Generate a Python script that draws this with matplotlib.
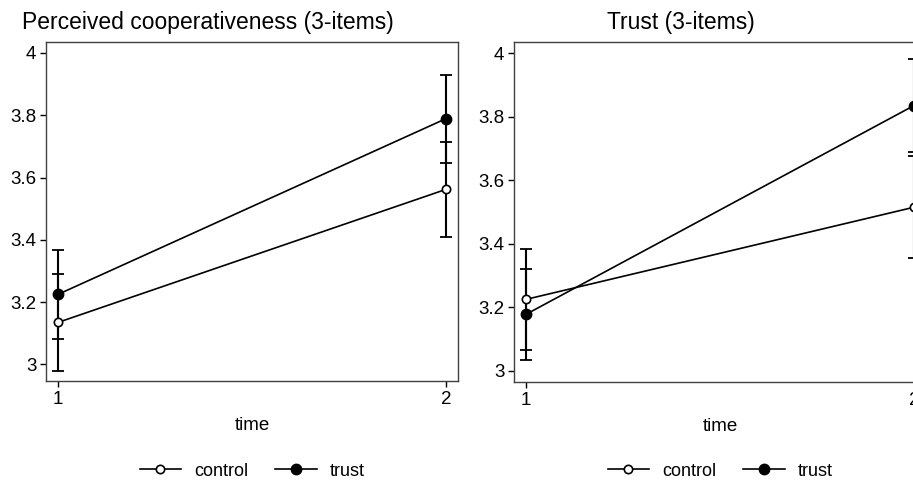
import matplotlib
matplotlib.use("Agg")
import matplotlib.pyplot as plt
import numpy as np

plt.rcParams['font.family'] = ['Liberation Sans', 'DejaVu Sans']

# data
time = [1, 2]
titles = ["Perceived cooperativeness (3-items)", "Trust (3-items)"]
groups = ["control", "trust"]

coop_control = [3.135, 3.562]
coop_control_lo = [2.980, 3.410]
coop_control_hi = [3.290, 3.715]
coop_trust = [3.225, 3.789]
coop_trust_lo = [3.083, 3.648]
coop_trust_hi = [3.366, 3.930]

trust_control = [3.225, 3.515]
trust_control_lo = [3.065, 3.355]
trust_control_hi = [3.385, 3.675]
trust_trust = [3.178, 3.835]
trust_trust_lo = [3.033, 3.688]
trust_trust_hi = [3.322, 3.982]

panels = [
    [(coop_control, coop_control_lo, coop_control_hi),
     (coop_trust, coop_trust_lo, coop_trust_hi)],
    [(trust_control, trust_control_lo, trust_control_hi),
     (trust_trust, trust_trust_lo, trust_trust_hi)],
]

W, H = 913, 484
fig = plt.figure(figsize=(W / 100, H / 100), dpi=100)

# axes boxes in pixels (left, top, right, bottom); the right panel runs past the edge
boxes = [(46, 42, 458, 381), (514, 42, 926, 382)]
ylims = [(2.947, 4.035), (2.965, 4.035)]
title_x = [208, 681]

for k, (box, yl) in enumerate(zip(boxes, ylims)):
    l, t, r, b = box
    ax = fig.add_axes([l / W, 1 - b / H, (r - l) / W, (b - t) / H])
    handles = []
    for g, (mean, lo, hi) in enumerate(panels[k]):
        mean = np.array(mean)
        err = [mean - np.array(lo), np.array(hi) - mean]
        ax.errorbar(time, mean, yerr=err, fmt='none', ecolor='black',
                    elinewidth=1.5, capsize=4, capthick=1.3, zorder=2)
        if groups[g] == "control":
            h, = ax.plot(time, mean, color='black', lw=1.2, marker='o', ms=6,
                         mfc='white', mec='black', mew=1.2, zorder=3,
                         label=groups[g])
        else:
            h, = ax.plot(time, mean, color='black', lw=1.2, marker='o', ms=7.5,
                         mfc='black', mec='black', zorder=3, label=groups[g])
        handles.append(h)

    ax.set_xlim(0.969, 2.031)
    ax.set_ylim(*yl)
    ax.set_xticks(time)
    ax.set_yticks([3, 3.2, 3.4, 3.6, 3.8, 4])
    ax.set_yticklabels(["3", "3.2", "3.4", "3.6", "3.8", "4"])
    ax.tick_params(direction='out', length=4, width=1, labelsize=13.5,
                   colors='black', pad=3)
    for s in ax.spines.values():
        s.set_color('#404040')
        s.set_linewidth(1)
    ax.set_xlabel("time", fontsize=13.5, labelpad=7)

    fig.text(title_x[k] / W, 1 - 22 / H, titles[k], ha='center', va='center',
             fontsize=16.5)

    cx = (l + 412 / 2) / W
    fig.legend(handles=handles, loc='center', bbox_to_anchor=(cx, 1 - 471 / H),
               ncol=2, frameon=False, fontsize=13, handlelength=2.3,
               handletextpad=0.7, columnspacing=1.5)

fig.savefig("out.png", dpi=100)
